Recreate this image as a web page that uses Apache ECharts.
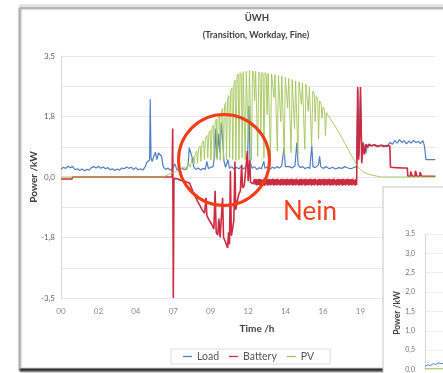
<!DOCTYPE html>
<html>
<head>
<meta charset="utf-8">
<script src="https://cdn.jsdelivr.net/npm/echarts@6/dist/echarts.min.js"></script>
<style>
  html, body { margin: 0; padding: 0; background: #fff; }
  #main { width: 443px; height: 373px; }
</style>
</head>
<body>
<div id="main"></div>
<script>
// tick labels
const xTickLabels = ['00', '02', '04', '07', '09', '12', '14', '16', '19', '21', '24'];
const yTickLabels = ['-3,5', '', '-1,8', '', '0,0', '', '1,8', '', '3,5'];
const y2TickLabels = ['0,0', '0,5', '1,0', '1,5', '2,0', '2,5', '3,0', '3,5'];
const seriesNames = ['Load', 'Battery', 'PV'];

// [hour, kW]
const loadData = [
  [0.00,0.22],[0.15,0.28],[0.3,0.25],[0.45,0.31],[0.6,0.27],[0.75,0.3],[0.9,0.21],[1.05,0.24],[1.2,0.19],
  [1.35,0.23],[1.5,0.18],[1.65,0.22],[1.8,0.2],[1.95,0.27],[2.1,0.3],[2.25,0.26],[2.4,0.31],[2.55,0.25],
  [2.7,0.29],[2.85,0.24],[3.0,0.27],[3.15,0.21],[3.3,0.24],[3.45,0.19],[3.6,0.23],[3.75,0.2],[3.9,0.26],
  [4.05,0.24],[4.2,0.29],[4.35,0.25],[4.5,0.28],[4.65,0.22],[4.8,0.27],[4.95,0.21],[5.1,0.24],[5.25,0.2],
  [5.4,0.3],[5.5,0.42],[5.6,0.38],[5.68,0.5],[5.72,2.25],[5.77,0.55],[5.85,0.45],[5.95,0.6],[6.05,0.72],
  [6.15,0.5],[6.25,0.7],[6.35,0.66],[6.45,0.6],[6.55,0.3],[6.7,0.22],[6.85,0.26],[7.0,0.2],[7.15,0.24],
  [7.3,0.38],[7.42,0.22],[7.6,0.2],[7.75,0.26],[7.9,0.21],[8.05,0.25],[8.15,0.35],[8.22,0.85],[8.32,0.9],
  [8.42,0.55],[8.5,0.3],[8.65,0.22],[8.8,0.26],[8.95,0.2],[9.1,0.25],[9.25,0.22],[9.35,0.45],[9.45,0.24],
  [9.6,0.28],[9.75,0.3],[9.85,0.6],[9.92,1.4],[10.0,0.55],[10.1,1.25],[10.18,0.7],[10.28,1.55],[10.36,1.1],
  [10.45,0.45],[10.55,0.28],[10.7,0.5],[10.8,0.25],[10.95,0.3],[11.1,0.22],[11.25,0.28],[11.4,0.24],
  [11.55,0.3],[11.7,0.23],[11.85,0.3],[11.95,0.4],[12.05,2.05],[12.12,0.45],[12.25,0.25],[12.4,0.3],
  [12.55,0.22],[12.7,0.27],[12.85,0.24],[13.0,0.45],[13.08,0.25],[13.25,0.3],[13.4,0.22],[13.55,0.28],
  [13.7,0.25],[13.85,0.3],[14.0,0.26],[14.15,0.32],[14.3,0.85],[14.38,0.3],[14.5,0.25],[14.65,0.3],
  [14.8,0.26],[15.0,0.32],[15.12,1.0],[15.2,0.35],[15.35,0.27],[15.5,0.3],[15.65,0.24],[15.8,0.28],
  [15.95,0.25],[16.08,0.9],[16.15,0.3],[16.3,0.27],[16.5,0.35],[16.58,0.6],[16.65,0.3],[16.8,0.25],
  [17.0,0.3],[17.2,0.24],[17.4,0.28],[17.6,0.23],[17.8,0.27],[18.0,0.25],[18.2,0.3],[18.4,0.26],
  [18.6,0.24],[18.8,0.28],[18.95,0.3],[19.03,2.5],[19.1,0.6],[19.2,2.4],[19.3,0.5],[19.4,0.95],
  [19.55,0.7],[19.65,0.92],[19.8,0.9],[20.0,0.92],[20.3,0.88],[20.6,0.92],[20.9,0.88],[21.1,1.0],
  [21.25,0.95],[21.4,1.05],[21.55,0.98],[21.7,1.08],[21.85,1.0],[22.0,1.05],[22.15,0.96],[22.3,1.04],
  [22.45,0.98],[22.6,1.06],[22.75,1.0],[22.9,1.03],[23.05,0.97],[23.2,1.05],[23.3,0.9],[23.4,0.5],
  [23.5,0.45],[23.7,0.5],[24.0,0.5]
];

const batteryData = [
  [0,-0.06],[0.7,-0.06],[0.75,0],[7.12,0],[7.16,1.4],[7.2,-3.5],[7.24,-0.04],[7.5,-0.06],[7.7,-0.1],
  [7.9,-0.12],[8.1,-0.15],[8.25,-0.18],[8.35,-0.3],[8.45,-0.42],[8.6,-0.55],[8.75,-0.7],[8.9,-0.82],
  [9.05,-0.95],[9.2,-1.05],[9.3,-0.6],[9.35,-1.12],[9.5,-1.25],[9.6,-1.3],[9.7,-1.4],[9.8,-1.5],
  [9.88,-0.4],[9.95,-1.6],[10.05,-1.68],[10.12,-1.2],[10.2,-1.75],[10.3,-1.8],[10.36,-0.6],[10.42,-1.75],
  [10.52,-1.85],[10.6,-1.9],[10.68,-2.05],[10.74,-1.6],[10.8,-1.95],[10.86,0.17],[10.92,-1.7],[11.0,-1.5],
  [11.08,-1.25],[11.15,0.45],[11.2,-0.95],[11.3,-0.7],[11.4,-0.5],[11.5,-0.4],[11.58,0.35],[11.64,-0.32],
  [11.75,-0.25],[11.85,-0.2],[11.95,0.75],[12.0,-0.12],[12.1,0.5],[12.15,-0.15],[12.3,-0.2],[12.4,-0.06],
  [12.45,-0.22],[12.5,-0.06],[12.55,-0.24],[12.6,-0.07],[12.65,-0.23],[12.7,-0.05],[12.75,-0.25],[12.8,-0.06],
  [12.85,-0.22],[12.9,-0.08],[12.95,-0.24],[13.0,-0.05],[13.05,-0.26],[13.1,-0.07],[13.15,-0.22],[13.2,-0.06],
  [13.25,-0.25],[13.3,-0.05],[13.35,-0.23],[13.4,-0.07],[13.45,-0.24],[13.5,-0.06],[13.55,-0.22],[13.6,-0.05],
  [13.65,-0.25],[13.7,-0.07],[13.75,-0.23],[13.8,-0.06],[13.85,-0.24],[13.9,-0.05],[13.95,-0.22],[14.0,-0.08],
  [14.05,-0.25],[14.1,-0.06],[14.15,-0.23],[14.2,-0.05],[14.25,-0.24],[14.3,-0.07],[14.35,-0.22],[14.4,-0.06],
  [14.45,-0.25],[14.5,-0.05],[14.55,-0.23],[14.6,-0.07],[14.65,-0.24],[14.7,-0.06],[14.75,-0.22],[14.8,-0.05],
  [14.85,-0.25],[14.9,-0.07],[14.95,-0.23],[15.0,-0.06],[15.05,-0.24],[15.1,-0.05],[15.15,-0.22],[15.2,-0.08],
  [15.25,-0.25],[15.3,-0.06],[15.35,-0.23],[15.4,-0.05],[15.45,-0.24],[15.5,-0.07],[15.55,-0.22],[15.6,-0.06],
  [15.65,-0.25],[15.7,-0.05],[15.75,-0.23],[15.8,-0.07],[15.85,-0.24],[15.9,-0.06],[15.95,-0.22],[16.0,-0.05],
  [16.05,-0.25],[16.1,-0.07],[16.15,-0.23],[16.2,-0.06],[16.25,-0.24],[16.3,-0.05],[16.35,-0.22],[16.4,-0.08],
  [16.45,-0.25],[16.5,-0.06],[16.55,-0.23],[16.6,-0.05],[16.65,-0.24],[16.7,-0.07],[16.75,-0.22],[16.8,-0.06],
  [16.85,-0.25],[16.9,-0.05],[16.95,-0.23],[17.0,-0.07],[17.05,-0.24],[17.1,-0.06],[17.15,-0.22],[17.2,-0.05],
  [17.25,-0.25],[17.3,-0.07],[17.35,-0.23],[17.4,-0.06],[17.45,-0.24],[17.5,-0.05],[17.55,-0.22],[17.6,-0.08],
  [17.65,-0.25],[17.7,-0.06],[17.75,-0.23],[17.8,-0.05],[17.85,-0.24],[17.9,-0.07],[17.95,-0.22],[18.0,-0.06],
  [18.05,-0.25],[18.1,-0.05],[18.15,-0.23],[18.2,-0.07],[18.25,-0.24],[18.3,-0.06],[18.35,-0.22],[18.4,-0.05],
  [18.45,-0.25],[18.5,-0.07],[18.55,-0.23],[18.6,-0.06],[18.65,-0.24],[18.7,-0.05],[18.75,-0.22],[18.8,-0.08],
  [18.85,-0.25],[18.9,-0.06],[18.95,-0.23],
  [19.0,-0.2],[19.02,2.6],[19.08,0.5],[19.15,1.2],[19.2,2.6],[19.28,0.4],[19.36,1.0],
  [19.45,0.65],[19.55,0.95],[19.65,0.85],[19.75,0.95],[19.9,0.9],[20.1,0.93],[20.3,0.89],[20.5,0.92],
  [20.7,0.88],[20.9,0.91],[21.08,0.9],[21.12,0.28],[21.5,0.27],[21.9,0.26],[22.2,0.26],[22.24,0.02],
  [22.4,0.02],[22.42,0.16],[22.5,0.16],[22.52,0.02],[22.7,0.02],[22.72,0.18],[22.8,0.18],[22.82,0.02],
  [23.0,0.02],[23.02,0.14],[23.1,0.14],[23.12,0.02],[24,0.02]
];

const pvData = [
  [0,0],[6.5,0],[6.7,0.03],[6.9,0.07],[7.1,0.11],[7.3,0.15],[7.5,0.19],[7.7,0.24],[7.9,0.3],[8.0,0.34],
  [8.08,0.2],[8.15,0.4],[8.25,0.45],[8.3,0.28],[8.38,0.52],[8.48,0.58],[8.53,0.35],[8.6,0.66],[8.7,0.74],
  [8.75,0.4],[8.82,0.82],[8.92,0.9],[8.97,0.45],[9.04,0.98],[9.14,1.05],[9.19,0.5],[9.26,1.12],[9.36,1.2],
  [9.41,0.55],[9.48,1.28],[9.56,1.34],[9.61,0.5],[9.68,1.42],[9.76,1.5],[9.81,0.55],[9.88,1.6],[9.96,1.68],
  [10.01,0.5],[10.08,1.76],[10.16,1.84],[10.21,0.48],[10.28,1.9],[10.36,1.98],[10.41,0.52],[10.48,2.06],
  [10.56,2.15],[10.61,0.5],[10.68,2.25],[10.76,2.36],[10.81,0.55],[10.88,2.48],[10.96,2.58],[11.01,0.5],
  [11.08,2.68],[11.16,2.8],[11.21,0.48],[11.28,2.9],[11.36,2.98],[11.41,0.5],[11.48,3.02],[11.56,2.95],
  [11.61,0.55],[11.68,3.05],[11.76,3.0],[11.81,0.5],[11.88,3.06],[11.96,3.02],[12.01,1.0],[12.08,3.08],
  [12.16,3.04],[12.21,0.5],[12.28,3.07],[12.36,3.0],[12.41,2.2],[12.48,3.06],[12.56,3.02],[12.61,0.6],
  [12.68,3.04],[12.76,2.98],[12.81,1.3],[12.88,3.03],[12.96,2.97],[13.01,0.55],[13.08,3.02],[13.16,2.96],
  [13.21,1.8],[13.28,3.0],[13.38,2.95],[13.43,0.6],[13.5,2.98],[13.6,2.94],[13.65,2.3],[13.72,2.96],
  [13.82,2.92],[13.87,0.75],[13.94,2.94],[14.04,2.9],[14.09,1.6],[14.16,2.92],[14.26,2.88],[14.31,0.6],
  [14.38,2.88],[14.48,2.86],[14.53,2.0],[14.6,2.85],[14.7,2.82],[14.75,0.7],[14.82,2.82],[14.92,2.8],
  [14.97,1.4],[15.04,2.78],[15.14,2.76],[15.19,0.65],[15.26,2.75],[15.36,2.74],[15.41,2.1],[15.48,2.72],
  [15.58,2.7],[15.63,0.8],[15.7,2.68],[15.8,2.65],[15.85,1.9],[15.92,2.6],[16.02,2.55],[16.07,0.9],
  [16.14,2.48],[16.24,2.4],[16.29,1.6],[16.36,2.33],[16.46,2.26],[16.51,1.1],[16.58,2.2],[16.68,2.12],
  [16.73,1.7],[16.8,2.02],[16.9,1.94],[16.95,1.2],[17.02,1.86],[17.15,1.76],[17.3,1.66],[17.45,1.56],
  [17.6,1.45],[17.75,1.34],[17.9,1.22],[18.05,1.1],[18.2,0.97],[18.35,0.85],[18.5,0.72],[18.65,0.6],
  [18.8,0.48],[18.95,0.36],[19.1,0.26],[19.25,0.19],[19.4,0.14],[19.6,0.1],[19.8,0.07],[20.0,0.05],
  [20.2,0.03],[20.4,0.01],[20.6,0],[24,0]
];

// second (overlapping) chart, only its left edge is visible
const load2Data = [[0,0.08],[0.15,0.12],[0.3,0.1],[0.45,0.15],[0.6,0.13],[0.75,0.17],[0.9,0.15],[1,0.16]];
const pv2Data = [[0,0.02],[1,0.02]];

const colors = ['#4f7fc8', '#cc2b3f', '#a2c556'];
const font = 'Lato';

const myChart = echarts.init(document.getElementById('main'));

const option = {
  animation: false,
  color: colors,
  textStyle: { fontFamily: font },
  grid: [
    { left: 61, top: 56, width: 388, height: 242 },
    { left: 425, top: 234, width: 18, height: 137 }
  ],
  xAxis: [
    {
      type: 'value', gridIndex: 0, min: 0, max: 24, interval: 2.4,
      axisLine: { show: false }, axisTick: { show: false }, splitLine: { show: false },
      axisLabel: {
        margin: 9, fontSize: 8, color: '#8a8a8a',
        formatter: v => xTickLabels[Math.round(v / 2.4)]
      }
    },
    { type: 'value', gridIndex: 1, min: 0, max: 1, show: false }
  ],
  yAxis: [
    {
      type: 'value', gridIndex: 0, min: -3.5, max: 3.5, interval: 0.875,
      axisLine: { show: true, lineStyle: { color: '#d9d9d9' } },
      axisTick: { show: false },
      splitLine: { lineStyle: { color: '#e8e8e8' } },
      axisLabel: {
        margin: 6, fontSize: 8, color: '#666',
        formatter: v => yTickLabels[Math.round((v + 3.5) / 0.875)]
      }
    },
    {
      type: 'value', gridIndex: 1, min: 0, max: 3.5, interval: 0.5, z: 12,
      axisLine: { show: true, lineStyle: { color: '#d9d9d9' } },
      axisTick: { show: false },
      splitLine: { lineStyle: { color: '#f0f0f0' } },
      axisLabel: {
        margin: 10, fontSize: 7, color: '#777',
        formatter: v => y2TickLabels[Math.round(v / 0.5)]
      }
    }
  ],
  legend: {
    data: seriesNames,
    left: 171, top: 349,
    padding: [2, 16, 2, 12],
    borderColor: '#dcdcdc', borderWidth: 1,
    icon: 'rect', itemWidth: 9, itemHeight: 1.3, itemGap: 10,
    textStyle: { fontSize: 10.5, color: '#555', fontFamily: font }
  },
  series: [
    { name: 'Load', type: 'line', data: loadData, showSymbol: false, lineStyle: { width: 1.2 } },
    { name: 'Battery', type: 'line', data: batteryData, showSymbol: false, lineStyle: { width: 1.6 } },
    { name: 'PV', type: 'line', data: pvData, showSymbol: false, lineStyle: { width: 1, opacity: 0.9 } },
    {
      name: 'Load2', type: 'line', xAxisIndex: 1, yAxisIndex: 1, data: load2Data, z: 13,
      showSymbol: false, lineStyle: { width: 1, color: colors[0] }, itemStyle: { color: colors[0] }
    },
    {
      name: 'PV2', type: 'line', xAxisIndex: 1, yAxisIndex: 1, data: pv2Data, z: 13,
      showSymbol: false, lineStyle: { width: 1, color: colors[2] }, itemStyle: { color: colors[2] }
    }
  ],
  graphic: [
    {
      type: 'rect', z: -10, silent: true,
      shape: { x: 20, y: 5, width: 470, height: 363 },
      style: { fill: '#fff', stroke: '#cfcfcf', lineWidth: 1,
        shadowBlur: 2, shadowOffsetY: 3, shadowColor: 'rgba(0,0,0,0.85)' }
    },
    {
      type: 'text', z: 5, x: 257, y: 18,
      style: { text: 'ÜWH', font: 'bold 9.5px Lato', fill: '#404040',
        textAlign: 'center', align: 'center', textVerticalAlign: 'middle', verticalAlign: 'middle' }
    },
    {
      type: 'text', z: 5, x: 256, y: 35,
      style: { text: '(Transition, Workday, Fine)', font: 'bold 9px Lato', fill: '#404040',
        textAlign: 'center', align: 'center', textVerticalAlign: 'middle', verticalAlign: 'middle' }
    },
    {
      type: 'text', z: 5, x: 34, y: 177, rotation: Math.PI / 2,
      style: { text: 'Power /kW', font: 'bold 10px Lato', fill: '#404040',
        textAlign: 'center', align: 'center', textVerticalAlign: 'middle', verticalAlign: 'middle' }
    },
    {
      type: 'text', z: 5, x: 257, y: 329,
      style: { text: 'Time /h', font: 'bold 10px Lato', fill: '#404040',
        textAlign: 'center', align: 'center', textVerticalAlign: 'middle', verticalAlign: 'middle' }
    },
    {
      type: 'rect', z: 10, silent: true,
      shape: { x: 383, y: 187, width: 80, height: 200 },
      style: { fill: '#fff', stroke: '#c4c4c4', lineWidth: 1 }
    },
    {
      type: 'text', z: 11, x: 397, y: 313, rotation: Math.PI / 2,
      style: { text: 'Power /kW', font: 'bold 8.5px Lato', fill: '#404040',
        textAlign: 'center', align: 'center', textVerticalAlign: 'middle', verticalAlign: 'middle' }
    },
    {
      type: 'circle', z: 20, silent: true,
      shape: { cx: 224, cy: 160, r: 45.5 },
      style: { fill: 'none', stroke: '#f23c1a', lineWidth: 3 }
    },
    {
      type: 'text', z: 20, x: 283, y: 212,
      style: { text: 'Nein', font: '26px Lato', fill: '#f2401d',
        textAlign: 'left', align: 'left', textVerticalAlign: 'middle', verticalAlign: 'middle' }
    }
  ]
};

option && myChart.setOption(option);
</script>
</body>
</html>
